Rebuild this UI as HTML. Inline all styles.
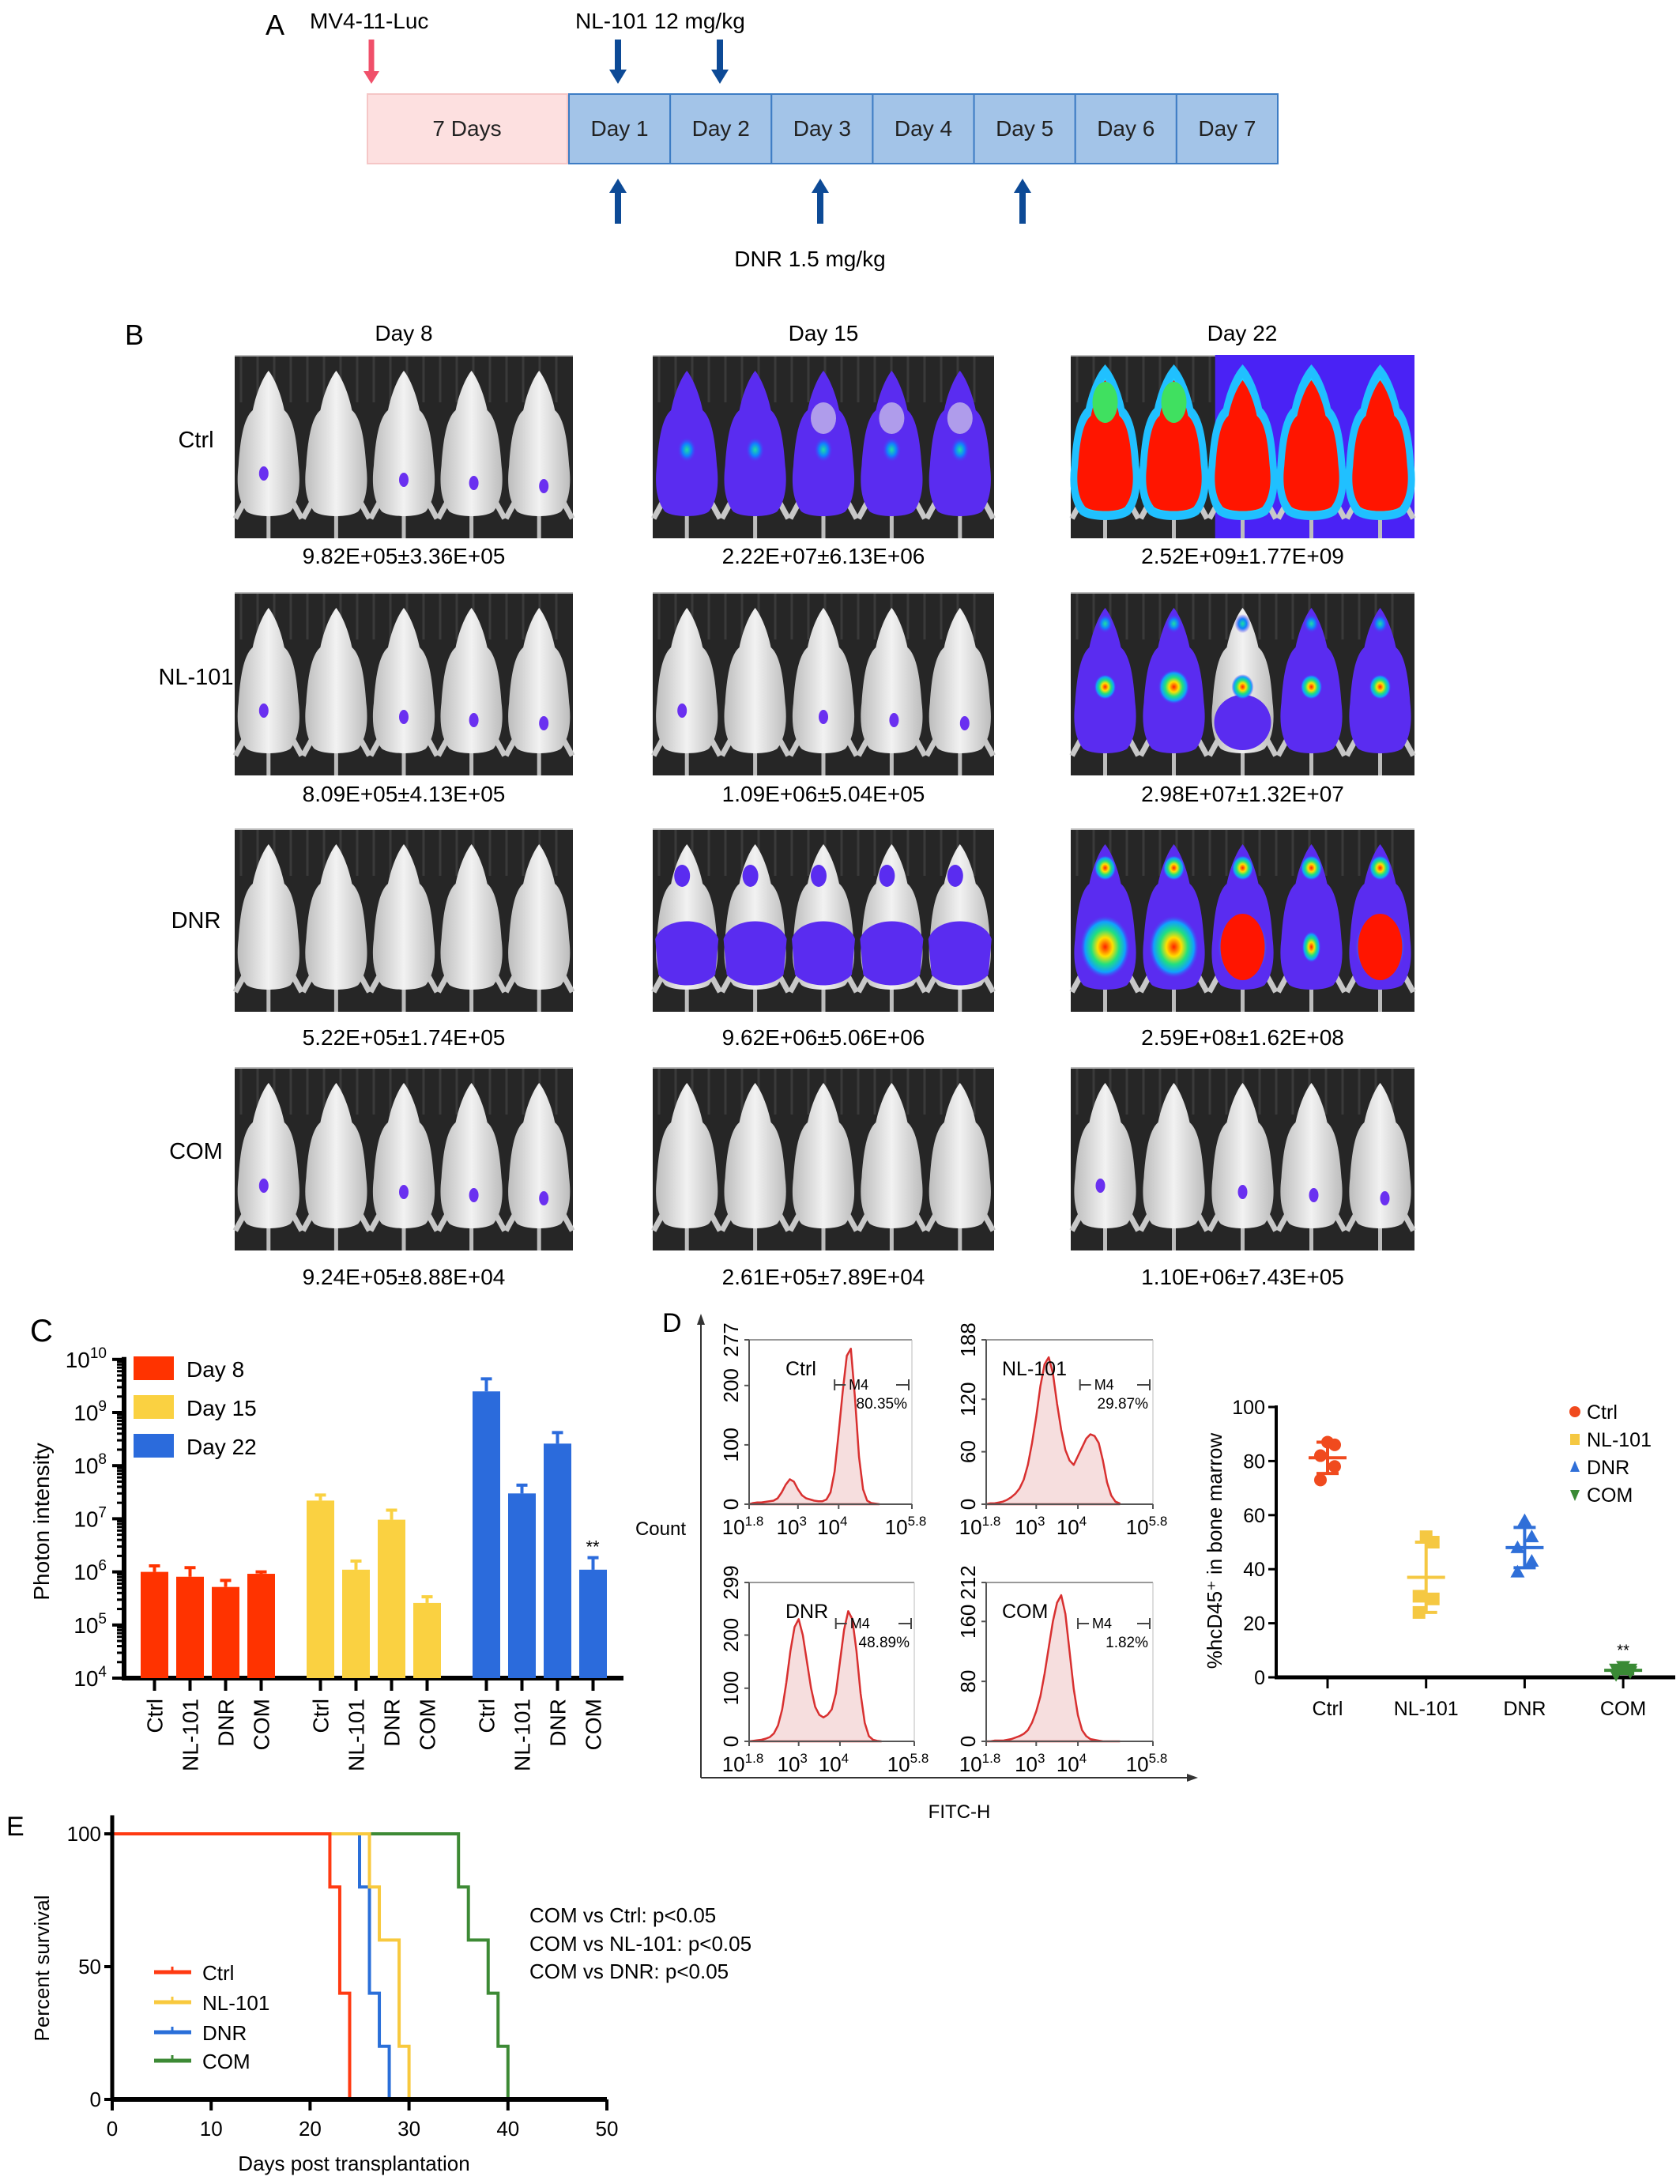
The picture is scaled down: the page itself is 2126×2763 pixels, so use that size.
<!DOCTYPE html>
<html><head><meta charset="utf-8"><style>
html,body{margin:0;padding:0;background:#fff;}
svg{display:block;font-family:"Liberation Sans",Arial,sans-serif;}
</style></head><body>
<svg id="fig" width="2126" height="2763" viewBox="0 0 2126 2763" xmlns="http://www.w3.org/2000/svg">
<defs>
<radialGradient id="gSpot" cx="50%" cy="50%" r="50%"><stop offset="0" stop-color="#ff2000"/><stop offset="0.3" stop-color="#ffe000"/><stop offset="0.55" stop-color="#20e080"/><stop offset="0.8" stop-color="#10a0ff"/><stop offset="1" stop-color="#5a2cf0" stop-opacity="0"/></radialGradient>
<radialGradient id="cSpot" cx="50%" cy="50%" r="50%"><stop offset="0" stop-color="#20e0a0"/><stop offset="0.5" stop-color="#1080ff"/><stop offset="1" stop-color="#5a2cf0" stop-opacity="0"/></radialGradient>
<linearGradient id="mouseG" x1="0" y1="0" x2="1" y2="0"><stop offset="0" stop-color="#bdbdbd"/><stop offset="0.5" stop-color="#f2f2f2"/><stop offset="1" stop-color="#bdbdbd"/></linearGradient>
</defs>

<!-- PANEL A -->
<g>
<text x="336" y="44" font-size="36">A</text>
<text x="392" y="36" font-size="28">MV4-11-Luc</text>
<text x="728" y="36" font-size="28">NL-101  12 mg/kg</text>
<g><line x1="470" y1="50" x2="470" y2="92" stroke="#f0506a" stroke-width="7"/><polygon points="460,90 480,90 470,106" fill="#f0506a"/></g>
<g><line x1="782" y1="50" x2="782" y2="92" stroke="#0d4a96" stroke-width="8"/><polygon points="771,88 793,88 782,106" fill="#0d4a96"/></g>
<g><line x1="911" y1="50" x2="911" y2="92" stroke="#0d4a96" stroke-width="8"/><polygon points="900,88 922,88 911,106" fill="#0d4a96"/></g>
<rect x="465" y="119" width="253" height="88" fill="#fde0e0" stroke="#f5c6c6" stroke-width="2"/>
<text x="591" y="172" font-size="28" text-anchor="middle" fill="#222">7 Days</text>
<g id="dayboxes"></g>
<g><line x1="782" y1="240" x2="782" y2="283" stroke="#0d4a96" stroke-width="8"/><polygon points="771,244 793,244 782,226" fill="#0d4a96"/></g>
<g><line x1="1038" y1="240" x2="1038" y2="283" stroke="#0d4a96" stroke-width="8"/><polygon points="1027,244 1049,244 1038,226" fill="#0d4a96"/></g>
<g><line x1="1294" y1="240" x2="1294" y2="283" stroke="#0d4a96" stroke-width="8"/><polygon points="1283,244 1305,244 1294,226" fill="#0d4a96"/></g>
<text x="1025" y="337" font-size="28" text-anchor="middle">DNR 1.5 mg/kg</text>
</g>

<!-- PANEL B -->
<g id="panelB">
<text x="158" y="436" font-size="36">B</text>
<text x="511" y="431" font-size="28" text-anchor="middle">Day 8</text>
<text x="1042" y="431" font-size="28" text-anchor="middle">Day 15</text>
<text x="1572" y="431" font-size="28" text-anchor="middle">Day 22</text>
<text x="248" y="566" font-size="29" text-anchor="middle">Ctrl</text>
<text x="248" y="866" font-size="29" text-anchor="middle">NL-101</text>
<text x="248" y="1174" font-size="29" text-anchor="middle">DNR</text>
<text x="248" y="1466" font-size="29" text-anchor="middle">COM</text>
</g>

<!-- PANEL C -->
<g id="panelC">
<text x="38" y="1697" font-size="40">C</text>
<text transform="translate(62,1925) rotate(-90)" font-size="28" text-anchor="middle">Photon intensity</text>
</g>

<!-- PANEL D -->
<g id="panelD">
<text x="838" y="1685" font-size="34">D</text>
<line x1="887" y1="1672" x2="887" y2="2249" stroke="#333" stroke-width="2"/>
<polygon points="882,1676 892,1676 887,1662" fill="#333"/>
<line x1="887" y1="2249" x2="1505" y2="2249" stroke="#333" stroke-width="2"/>
<polygon points="1502,2244 1502,2254 1516,2249" fill="#333"/>
<text x="836" y="1942" font-size="24" text-anchor="middle">Count</text>
<text x="1214" y="2300" font-size="24" text-anchor="middle">FITC-H</text>
<text transform="translate(1546,1962) rotate(-90)" font-size="26" text-anchor="middle">%hcD45⁺ in bone marrow</text>
</g>

<!-- PANEL E -->
<g id="panelE">
<text x="8" y="2322" font-size="34">E</text>
<text transform="translate(62,2490) rotate(-90)" font-size="26" text-anchor="middle">Percent survival</text>
<text x="448" y="2746" font-size="26" text-anchor="middle">Days post transplantation</text>
<text x="670" y="2432" font-size="26">COM vs Ctrl: p&lt;0.05</text>
<text x="670" y="2468" font-size="26">COM vs NL-101: p&lt;0.05</text>
<text x="670" y="2503" font-size="26">COM vs DNR: p&lt;0.05</text>
</g>
</svg>
<script>
const NS="http://www.w3.org/2000/svg";
function mk(parent,tag,attrs,text){const e=document.createElementNS(NS,tag);for(const k in attrs)e.setAttribute(k,attrs[k]);if(text!==undefined)e.textContent=text;parent.appendChild(e);return e;}

/* ---------- Panel A day boxes ---------- */
const dayLabels=["Day 1","Day 2","Day 3","Day 4","Day 5","Day 6","Day 7"];
(function(){const g=document.getElementById('dayboxes');const w=(1617-720)/7;
dayLabels.forEach((d,i)=>{const x=720+i*w;
const r=mk(g,'rect',{x:x,y:119,width:w,height:88,fill:'#a3c4e8',stroke:'#3d7cc4','stroke-width':2});


const t=mk(g,'text',{x:x+w/2,y:172,'font-size':28,'text-anchor':'middle',fill:'#222'},d);

});})();

/* ---------- Panel B imaging ---------- */
const rowNames=["ctrl","nl-101","dnr","com"];
const colNames=["day-8","day-15","day-22"];
const captions=[["9.82E+05±3.36E+05","2.22E+07±6.13E+06","2.52E+09±1.77E+09"],
["8.09E+05±4.13E+05","1.09E+06±5.04E+05","2.98E+07±1.32E+07"],
["5.22E+05±1.74E+05","9.62E+06±5.06E+06","2.59E+08±1.62E+08"],
["9.24E+05±8.88E+04","2.61E+05±7.89E+04","1.10E+06±7.43E+05"]];
const styles=[["spots","blue","red"],["spots","spots","mixed"],["clean","part","redmix"],["spots","clean","spots"]];
(function(){const B=document.getElementById('panelB');
const colX=[297,826,1355],colW=[428,432,435],rowY=[449,749,1048,1350],capY=[713,1014,1322,1625],H=232;
function mousePath(cx,y0){return `M${cx},${y0+20} C${cx+8},${y0+30} ${cx+16},${y0+50} ${cx+20},${y0+70} C${cx+32},${y0+80} ${cx+36},${y0+110} ${cx+38},${y0+140} C${cx+41},${y0+165} ${cx+38},${y0+185} ${cx+28},${y0+198} C${cx+18},${y0+206} ${cx-18},${y0+206} ${cx-28},${y0+198} C${cx-38},${y0+185} ${cx-41},${y0+165} ${cx-38},${y0+140} C${cx-36},${y0+110} ${cx-32},${y0+80} ${cx-20},${y0+70} C${cx-16},${y0+50} ${cx-8},${y0+30} ${cx},${y0+20} Z`;}
for(let r=0;r<4;r++)for(let c=0;c<3;c++){
const g=mk(B,'g',{});


const x0=colX[c],y0=rowY[r],W=colW[c],st=styles[r][c];
mk(g,'rect',{x:x0,y:y0,width:W,height:H,fill:'#262626'});
for(let k=0;k<20;k++)mk(g,'line',{x1:x0+8+k*21,y1:y0,x2:x0+8+k*21,y2:y0+60,stroke:'#3a3a3a','stroke-width':3});
mk(g,'line',{x1:x0,y1:y0+1,x2:x0+W,y2:y0+1,stroke:'#bbb','stroke-width':2});
if(st==='red')mk(g,'rect',{x:x0+W*0.42,y:y0,width:W*0.58,height:H,fill:'#4a22f5'});
const sp=W/5;
for(let m=0;m<5;m++){const cx=x0+sp*(m+0.5);
mk(g,'line',{x1:cx,y1:y0+195,x2:cx,y2:y0+H,stroke:'#bdbdbd','stroke-width':5});
mk(g,'path',{d:`M${cx-30},${y0+185} l-12,22 M${cx+30},${y0+185} l12,22`,stroke:'#c8c8c8','stroke-width':7,fill:'none'});
const p=mousePath(cx,y0);
if(st==='red'){mk(g,'path',{d:p,fill:'#20d0ff',stroke:'#20c0ff','stroke-width':10});
mk(g,'path',{d:p,fill:'#ff1500',transform:`translate(${cx},${y0+140}) scale(0.9) translate(${-cx},${-(y0+140)})`});
if(m<2)mk(g,'ellipse',{cx:cx,cy:y0+60,rx:16,ry:26,fill:'#40e060'});}
else if(st==='redmix'){mk(g,'path',{d:p,fill:'#5a2cf0'});
mk(g,'ellipse',{cx:cx,cy:y0+150,rx:m===3?12:32,ry:m===3?20:40,fill:'url(#gSpot)'});
mk(g,'ellipse',{cx:cx,cy:y0+50,rx:14,ry:16,fill:'url(#gSpot)'});
if(m===2||m===4)mk(g,'ellipse',{cx:cx,cy:y0+150,rx:28,ry:42,fill:'#ff1500'});}
else if(st==='blue'){mk(g,'path',{d:p,fill:'#5a2cf0'});
if(m>=2)mk(g,'ellipse',{cx:cx,cy:y0+80,rx:16,ry:20,fill:'#e8e8e8',opacity:0.6});
mk(g,'ellipse',{cx:cx,cy:y0+120,rx:12,ry:16,fill:'url(#cSpot)'});}
else if(st==='mixed'){mk(g,'path',{d:p,fill:m===2?'url(#mouseG)':'#5a2cf0'});
if(m===2)mk(g,'ellipse',{cx:cx,cy:y0+165,rx:36,ry:35,fill:'#5a2cf0'});
mk(g,'ellipse',{cx:cx,cy:y0+120,rx:m===1?20:14,ry:m===1?22:16,fill:'url(#gSpot)'});
mk(g,'ellipse',{cx:cx,cy:y0+40,rx:10,ry:12,fill:'url(#cSpot)'});}
else if(st==='part'){mk(g,'path',{d:p,fill:'url(#mouseG)'});
mk(g,'path',{d:`M${cx-40},${y0+140} C${cx-30},${y0+110} ${cx+30},${y0+110} ${cx+40},${y0+140} L${cx+36},${y0+185} C${cx+20},${y0+203} ${cx-20},${y0+203} ${cx-36},${y0+185} Z`,fill:'#5a2cf0'});
mk(g,'ellipse',{cx:cx-6,cy:y0+60,rx:10,ry:14,fill:'#5a2cf0'});}
else{mk(g,'path',{d:p,fill:'url(#mouseG)'});
if(st==='spots'&&(m%2===0||m===3)){mk(g,'ellipse',{cx:cx+(m-2)*3,cy:y0+150+m*4,rx:6,ry:9,fill:'#6a30f0'});}}
}
const t=mk(B,'text',{x:x0+W/2,y:capY[r],'font-size':28,'text-anchor':'middle'},captions[r][c]);


}})();

/* ---------- Panel C bar chart ---------- */
const barCats=["Ctrl","NL-101","DNR","COM"];
const barDays=["Day 8","Day 15","Day 22"];
const barColors=["#ff3300","#fad141","#2b6bdc"];
const day8Vals=[1.0e6,8.1e5,5.2e5,9.2e5];
const day8Err=[1.3e6,1.2e6,6.9e5,1.0e6];
const day15Vals=[2.2e7,1.1e6,9.6e6,2.6e5];
const day15Err=[2.8e7,1.6e6,1.45e7,3.4e5];
const day22Vals=[2.5e9,3.0e7,2.6e8,1.1e6];
const day22Err=[4.3e9,4.3e7,4.2e8,1.85e6];
const yTickExp=[4,5,6,7,8,9,10];
(function(){const C=document.getElementById('panelC');
const Y0=2123,DEC=67.2,AX=157;
const yC=v=>Y0-(Math.log10(v)-4)*DEC;
const vals=[day8Vals,day15Vals,day22Vals],errs=[day8Err,day15Err,day22Err];
mk(C,'line',{x1:AX,y1:yC(1e10)-3,x2:AX,y2:Y0+3,stroke:'#000','stroke-width':6});
mk(C,'line',{x1:AX-3,y1:Y0,x2:789,y2:Y0,stroke:'#000','stroke-width':6});
yTickExp.forEach(e=>{const y=yC(Math.pow(10,e));
mk(C,'line',{x1:AX-15,y1:y,x2:AX,y2:y,stroke:'#000','stroke-width':4});
const t=mk(C,'text',{x:AX-22,y:y+10,'font-size':28,'text-anchor':'end'});


mk(t,'tspan',{},'10');mk(t,'tspan',{dy:-12,'font-size':19},String(e));
if(e<10)for(let k=2;k<10;k++){const yy=yC(k*Math.pow(10,e));mk(C,'line',{x1:AX-9,y1:yy,x2:AX,y2:yy,stroke:'#000','stroke-width':3});}});
for(let g=0;g<3;g++)for(let i=0;i<4;i++){
const x=178+g*210+i*45,w=35,cx=x+w/2,v=vals[g][i],e=errs[g][i];
const eb=mk(C,'path',{d:`M${cx},${yC(v)} V${yC(e)} M${cx-7},${yC(e)} H${cx+7}`,stroke:barColors[g],'stroke-width':4,fill:'none'});


const b=mk(C,'rect',{x:x,y:yC(v),width:w,height:Y0-yC(v),fill:barColors[g]});


mk(C,'line',{x1:cx,y1:Y0,x2:cx,y2:Y0+16,stroke:'#000','stroke-width':4});
const t=mk(C,'text',{transform:`translate(${cx+10},${Y0+26}) rotate(-90)`,'font-size':28,'text-anchor':'end'},barCats[i]);

}
const st=mk(C,'text',{x:178+2*210+3*45+17,y:yC(day22Err[3])-6,'font-size':22,'text-anchor':'middle'},'**');


barDays.forEach((d,g)=>{const y=1716+g*49;
const lg=mk(C,'g',{});


mk(lg,'rect',{x:169,y:y,width:51,height:30,fill:barColors[g]});
mk(lg,'text',{x:236,y:y+26,'font-size':28},d);});})();

/* ---------- Panel D histograms ---------- */
const histLogX=[1.8,1.9,2.0,2.1,2.2,2.3,2.4,2.5,2.6,2.7,2.8,2.9,3.0,3.1,3.2,3.3,3.4,3.5,3.6,3.7,3.8,3.9,4.0,4.1,4.2,4.3,4.4,4.5,4.6,4.7,4.8,4.9,5.0];
const histCtrl=[0,2,3,3,4,5,6,10,20,33,42,38,25,15,10,8,6,5,5,8,20,55,120,190,250,262,180,80,25,6,2,1,0];
const histNL=[0,1,1,2,3,5,8,12,18,28,45,70,100,135,160,168,150,115,85,62,50,45,55,65,75,80,78,70,50,25,10,3,1];
const histDNR=[0,1,2,3,5,8,15,30,60,110,170,215,230,200,150,100,65,50,45,50,60,90,150,210,245,230,170,90,35,10,3,1,0];
const histCOM=[0,0,1,1,1,2,3,5,7,10,15,25,40,60,90,125,160,185,195,170,120,70,35,15,7,3,2,1,0,0,0,0,0];
const histMax=[277,188,299,212];
const histTicks=[[0,100,200,277],[0,60,120,188],[0,100,200,299],[0,80,160,212]];
const histNames=["Ctrl","NL-101","DNR","COM"];
const histPct=["80.35%","29.87%","48.89%","1.82%"];
const gateStart=[3.9,4.05,3.9,4.0];
const xTickVals=[1.8,3,4,5.8];
(function(){const D=document.getElementById('panelD');
const boxes=[[948,1695,206,208],[1248,1695,211,208],[948,2002,209,201],[1248,2002,211,201]];
const data=[histCtrl,histNL,histDNR,histCOM];
boxes.forEach((bx,k)=>{const [x0,y0,w,h]=bx,y1=y0+h;
const g=mk(D,'g',{});


const xh=l=>x0+(l-1.8)/4*w,yh=c=>y1-c/histMax[k]*h;
mk(g,'line',{x1:x0,y1:y0,x2:x0+w,y2:y0,stroke:'#999','stroke-width':2});
mk(g,'line',{x1:x0+w,y1:y0,x2:x0+w,y2:y1,stroke:'#bbb','stroke-width':1});
let d=`M${xh(histLogX[0])},${y1}`;histLogX.forEach((l,i)=>{d+=` L${xh(l)},${yh(data[k][i])}`;});
d+=` L${xh(histLogX[histLogX.length-1])},${y1} Z`;
mk(g,'path',{d:d,fill:'#f6dede',stroke:'#d83030','stroke-width':2.5,'stroke-linejoin':'round'});
mk(g,'line',{x1:x0,y1:y0,x2:x0,y2:y1,stroke:'#555','stroke-width':2});
mk(g,'line',{x1:x0,y1:y1,x2:x0+w,y2:y1,stroke:'#555','stroke-width':2});
histTicks[k].forEach(v=>{const y=yh(v);mk(g,'line',{x1:x0-6,y1:y,x2:x0,y2:y,stroke:'#555','stroke-width':2});
const t=mk(g,'text',{transform:`translate(${x0-14},${y}) rotate(-90)`,'font-size':26,'text-anchor':'middle'},String(v));

});
xTickVals.forEach(v=>{const x=xh(v);mk(g,'line',{x1:x,y1:y1,x2:x,y2:y1+6,stroke:'#555','stroke-width':2});
const t=mk(g,'text',{x:x-8,y:y1+38,'font-size':26,'text-anchor':'middle'});


mk(t,'tspan',{},'10');mk(t,'tspan',{dy:-11,'font-size':17},String(v));});
mk(g,'text',{x:x0+(k%2===0?46:20),y:y0+45,'font-size':25},histNames[k]);
const gx=xh(gateStart[k]),gy=y0+(k<2?57:52);
mk(g,'path',{d:`M${gx},${gy-7} V${gy+7} M${gx},${gy} H${gx+14} M${x0+w-20},${gy} H${x0+w-4} M${x0+w-4},${gy-7} V${gy+7}`,stroke:'#444','stroke-width':2,fill:'none'});
mk(g,'text',{x:gx+18,y:gy+6,'font-size':18},'M4');
mk(g,'text',{x:x0+w-6,y:gy+30,'font-size':19,'text-anchor':'end'},histPct[k]);});})();

/* ---------- Panel D scatter ---------- */
const scatCats=["Ctrl","NL-101","DNR","COM"];
const scatCtrl=[87,86,82,78,73];
const scatNL=[52,50,30,29,24];
const scatDNR=[58,52,48,43,39];
const scatCOM=[4,3,3,2,1];
const scatColors=["#f04a1e","#f5c842","#2f6fd8","#3a8a35"];
const scatTicks=[0,20,40,60,80,100];
(function(){const D=document.getElementById('panelD');
const AX=1615,Y0=2122,ys=v=>Y0-v*3.42,xc=i=>1680+i*124.7;
mk(D,'line',{x1:AX,y1:ys(100)-2,x2:AX,y2:Y0+2,stroke:'#000','stroke-width':4});
mk(D,'line',{x1:AX-2,y1:Y0,x2:2120,y2:Y0,stroke:'#000','stroke-width':5});
scatTicks.forEach(v=>{mk(D,'line',{x1:AX-10,y1:ys(v),x2:AX,y2:ys(v),stroke:'#000','stroke-width':3});
const t=mk(D,'text',{x:AX-14,y:ys(v)+9,'font-size':25,'text-anchor':'end'},String(v));

});
const sets=[scatCtrl,scatNL,scatDNR,scatCOM];
sets.forEach((arr,i)=>{const cx=xc(i),col=scatColors[i];
const mean=arr.reduce((a,b)=>a+b,0)/arr.length;
const sd=Math.sqrt(arr.reduce((a,b)=>a+(b-mean)*(b-mean),0)/(arr.length-1));
mk(D,'line',{x1:cx,y1:Y0,x2:cx,y2:Y0+14,stroke:'#000','stroke-width':3});
const lb=mk(D,'text',{x:cx,y:Y0+48,'font-size':25,'text-anchor':'middle'},scatCats[i]);


const eb=mk(D,'path',{d:`M${cx-24},${ys(mean)} H${cx+24} M${cx},${ys(mean+sd)} V${ys(mean-sd)} M${cx-14},${ys(mean+sd)} H${cx+14} M${cx-14},${ys(mean-sd)} H${cx+14}`,stroke:col,'stroke-width':4,fill:'none'});


arr.forEach((v,j)=>{const px=cx+(j%2===0?-1:1)*(j===0?0:9),py=ys(v);let m;
if(i===0)m=mk(D,'circle',{cx:px,cy:py,r:8,fill:col});
else if(i===1)m=mk(D,'rect',{x:px-8,y:py-8,width:16,height:16,fill:col});
else if(i===2)m=mk(D,'polygon',{points:`${px},${py-9} ${px+9},${py+7} ${px-9},${py+7}`,fill:col});
else m=mk(D,'polygon',{points:`${px},${py+9} ${px+9},${py-7} ${px-9},${py-7}`,fill:col});

});
const lg=mk(D,'g',{});


const ly=[1786,1821,1856,1891][i];
if(i===0)mk(lg,'circle',{cx:1993,cy:ly,r:7,fill:col});
else if(i===1)mk(lg,'rect',{x:1987,y:ly-7,width:12,height:14,fill:col});
else if(i===2)mk(lg,'polygon',{points:`1993,${ly-8} 1999,${ly+6} 1987,${ly+6}`,fill:col});
else mk(lg,'polygon',{points:`1993,${ly+8} 1999,${ly-6} 1987,${ly-6}`,fill:col});
mk(lg,'text',{x:2008,y:ly+9,'font-size':25},scatCats[i]);});
const st=mk(D,'text',{x:xc(3),y:ys(8),'font-size':20,'text-anchor':'middle'},'**');

})();

/* ---------- Panel E survival ---------- */
const survGroups=["Ctrl","NL-101","DNR","COM"];
const survColors=["#ff3a12","#f8c93e","#2a6fd9","#3d8a35"];
const survCtrlT=[0,22,23,24];const survCtrlP=[100,80,40,0];
const survNLT=[0,26,27,29,30];const survNLP=[100,80,60,20,0];
const survDNRT=[0,25,26,27,28];const survDNRP=[100,80,40,20,0];
const survCOMT=[0,35,36,38,39,40];const survCOMP=[100,80,60,40,20,0];
const survXTicks=[0,10,20,30,40,50];const survYTicks=[0,50,100];
(function(){const E=document.getElementById('panelE');
const xs=d=>142+d*12.52,ys=p=>2656-p*3.36;
survYTicks.forEach(v=>{mk(E,'line',{x1:xs(0)-10,y1:ys(v),x2:xs(0),y2:ys(v),stroke:'#000','stroke-width':4});
const t=mk(E,'text',{x:xs(0)-14,y:ys(v)+9,'font-size':26,'text-anchor':'end'},String(v));

});
survXTicks.forEach(v=>{mk(E,'line',{x1:xs(v),y1:ys(0),x2:xs(v),y2:ys(0)+14,stroke:'#000','stroke-width':4});
const t=mk(E,'text',{x:xs(v),y:ys(0)+46,'font-size':26,'text-anchor':'middle'},String(v));

});
const T=[survCtrlT,survNLT,survDNRT,survCOMT],P=[survCtrlP,survNLP,survDNRP,survCOMP];
for(let g=3;g>=0;g--){let d=`M${xs(T[g][0])},${ys(P[g][0])}`;
for(let i=1;i<T[g].length;i++){d+=` H${xs(T[g][i])} V${ys(P[g][i])}`;}
const l=mk(E,'path',{d:d,fill:'none',stroke:survColors[g],'stroke-width':4});

}
mk(E,'line',{x1:xs(0),y1:ys(107),x2:xs(0),y2:ys(0)+2,stroke:'#000','stroke-width':5});
mk(E,'line',{x1:xs(0)-2,y1:ys(0),x2:xs(50),y2:ys(0),stroke:'#000','stroke-width':6});
survGroups.forEach((n,i)=>{const y=[2495,2533,2571,2607][i];
const lg=mk(E,'g',{});


mk(lg,'line',{x1:195,y1:y,x2:242,y2:y,stroke:survColors[i],'stroke-width':5});
mk(lg,'line',{x1:218,y1:y-7,x2:218,y2:y,stroke:survColors[i],'stroke-width':3});
mk(lg,'text',{x:256,y:y+10,'font-size':26},n);});})();
</script>
</body></html>
